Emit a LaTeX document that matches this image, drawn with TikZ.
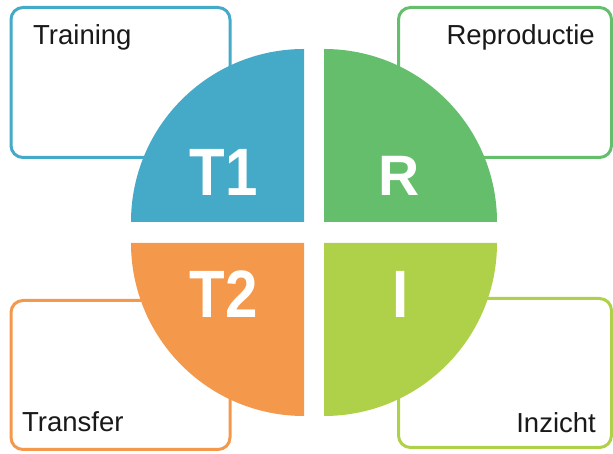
\documentclass[tikz,border=0pt]{standalone}
\usepackage{fontspec}
\setmainfont{Liberation Sans}
\definecolor{cBlue}{HTML}{44AAC8}
\definecolor{cGreen}{HTML}{65BE6C}
\definecolor{cOrange}{HTML}{F4984C}
\definecolor{cLime}{HTML}{AFD14A}
\tikzset{
  card/.style={draw=#1, fill=white, line width=3pt, rounded corners=12pt, rectangle, inner sep=0pt},
  cardtext/.style={font=\fontsize{27.5}{30}\selectfont, text=black!90, inner sep=0pt},
  quarter/.style={fill=#1, draw=none},
  bigletter/.style={font=\fontsize{67}{67}\selectfont\bfseries, text=white, inner sep=0pt, xscale=0.87},
  smallletter/.style={font=\fontsize{57}{57}\selectfont\bfseries, text=white, inner sep=0pt}
}
\begin{document}
\begin{tikzpicture}[x=1pt,y=1pt]
\useasboundingbox (0,0) rectangle (613,454);
% corner cards
\node[card=cBlue,  minimum width=219pt, minimum height=150pt] (boxT1) at (120.5,371.5) {};
\node[card=cGreen, minimum width=213pt, minimum height=150pt] (boxR)  at (505,371.5) {};
\node[card=cOrange,minimum width=219pt, minimum height=149pt] (boxT2) at (120.5,79) {};
\node[card=cLime,  minimum width=213pt, minimum height=149pt] (boxI)  at (505,81) {};
\node[cardtext, anchor=base west] (txtT1) at (33,409) {Training};
\node[cardtext, anchor=base east] (txtR)  at (595,409) {Reproductie};
\node[cardtext, anchor=base west] (txtT2) at (22,22) {Transfer};
\node[cardtext, anchor=base east] (txtI)  at (596,21) {Inzicht};
% four quarter discs
\fill[quarter=cBlue]   (304,232) -- ++(-173,0) arc[start angle=180,end angle=90,radius=173] -- cycle;
\fill[quarter=cGreen]  (324,232) -- ++(0,173) arc[start angle=90,end angle=0,radius=173] -- cycle;
\fill[quarter=cOrange] (304,211) -- ++(0,-173) arc[start angle=270,end angle=180,radius=173] -- cycle;
\fill[quarter=cLime]   (324,211) -- ++(173,0) arc[start angle=0,end angle=-90,radius=173] -- cycle;
\node[bigletter]   (lblT1) at (223.5,281.5) {T1};
\node[smallletter] (lblR)  at (399.5,278.5) {R};
\node[bigletter]   (lblT2) at (224,160) {T2};
\node[bigletter]   (lblI)  at (401,160) {I};
\end{tikzpicture}
\end{document}
